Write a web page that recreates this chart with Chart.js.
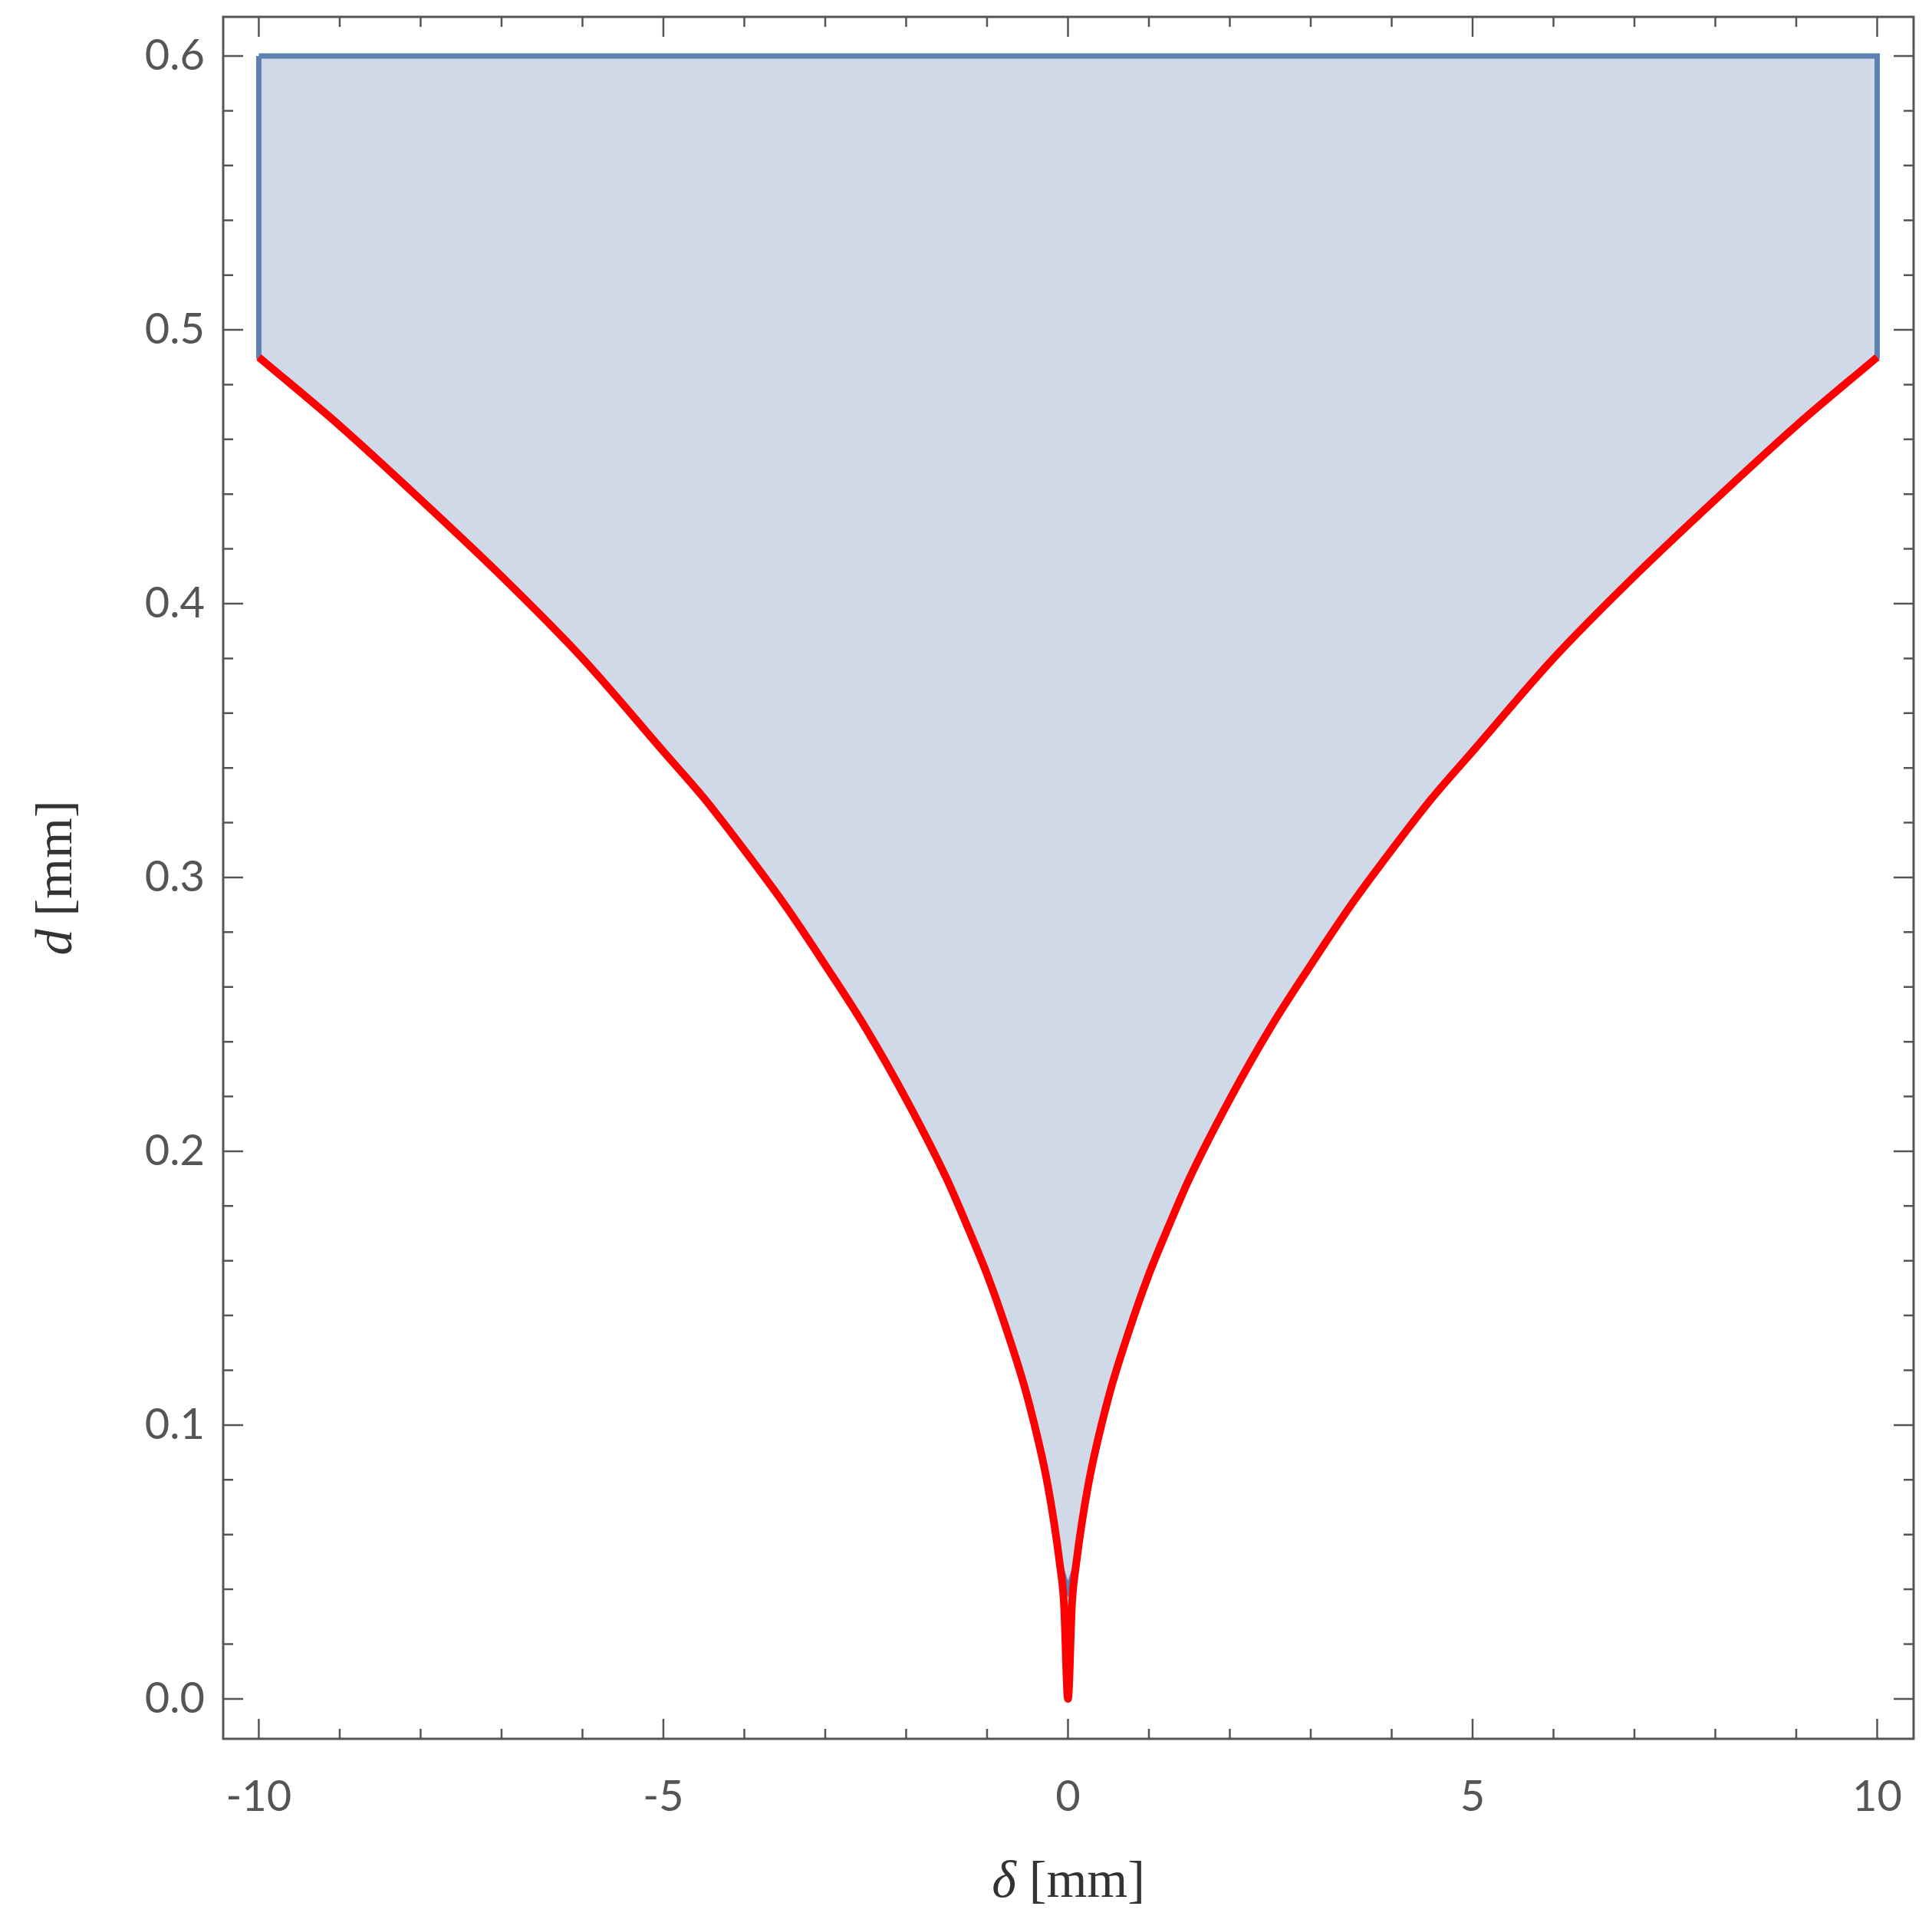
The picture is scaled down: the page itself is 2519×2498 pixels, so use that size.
<!DOCTYPE html>
<html>
<head>
<meta charset="utf-8">
<script src="https://cdn.jsdelivr.net/npm/chart.js@4.4.1/dist/chart.umd.min.js"></script>
<style>
  html, body { margin: 0; padding: 0; background: #fff; }
  #wrap { width: 2519px; height: 2498px; }
</style>
</head>
<body>
<div id="wrap"><canvas id="chart"></canvas></div>
<script>
// boundary curve d(δ), right half, mirrored for left half
const deltaRight = [0, 0.05, 0.1, 0.25, 0.5, 0.75, 1, 1.25, 1.5, 2, 2.5, 3, 3.5, 4, 4.5, 5, 6, 7, 8, 9, 10];
const dRight = [0, 0.035, 0.049, 0.078, 0.11, 0.134, 0.155, 0.173, 0.19, 0.219, 0.245, 0.268, 0.29, 0.31, 0.329, 0.346, 0.38, 0.41, 0.438, 0.465, 0.49];
const dTop = 0.6;
const xTicks = [-10, -5, 0, 5, 10];
const yTicks = [0.0, 0.1, 0.2, 0.3, 0.4, 0.5, 0.6];

// red curve: left branch then right branch
const curve = [];
for (let i = deltaRight.length - 1; i >= 0; i--) curve.push({ x: -deltaRight[i], y: dRight[i] });
for (let i = 1; i < deltaRight.length; i++) curve.push({ x: deltaRight[i], y: dRight[i] });

// filled region: top edge, down the right side, along the curve, up the left side
const region = [{ x: -10, y: dTop }, { x: 10, y: dTop }];
for (let i = curve.length - 1; i >= 0; i--) {
    if (curve[i].y >= 0.04 || curve[i].x === 0) region.push({ x: curve[i].x, y: Math.max(curve[i].y, 0.04) });
}
region.push({ x: -10, y: dTop });

const frameColor = '#555555';

const framePlugin = {
    id: 'frame',
    afterDraw(chart) {
        const { ctx, chartArea: a, scales: { x, y } } = chart;
        ctx.save();
        ctx.strokeStyle = frameColor;
        ctx.lineWidth = 3;
        ctx.strokeRect(a.left, a.top, a.right - a.left, a.bottom - a.top);
        ctx.lineWidth = 2.5;
        for (let v = -10; v <= 10; v++) {
            const px = x.getPixelForValue(v);
            const len = v % 5 === 0 ? 26 : 13;
            ctx.beginPath();
            ctx.moveTo(px, a.bottom); ctx.lineTo(px, a.bottom - len);
            ctx.moveTo(px, a.top); ctx.lineTo(px, a.top + len);
            ctx.stroke();
        }
        for (let k = 0; k <= 30; k++) {
            const py = y.getPixelForValue(k * 0.02);
            const len = k % 5 === 0 ? 26 : 13;
            ctx.beginPath();
            ctx.moveTo(a.left, py); ctx.lineTo(a.left + len, py);
            ctx.moveTo(a.right, py); ctx.lineTo(a.right - len, py);
            ctx.stroke();
        }
        // axis titles, italic symbol + upright unit
        ctx.fillStyle = '#333333';
        ctx.textBaseline = 'middle';
        ctx.textAlign = 'left';
        const title = (sym, cx, cy, rot) => {
            ctx.save();
            ctx.translate(cx, cy);
            ctx.rotate(rot);
            ctx.font = 'italic 68px "Liberation Serif"';
            const w1 = ctx.measureText(sym).width;
            ctx.font = '68px "Liberation Serif"';
            const w2 = ctx.measureText(' [mm]').width;
            const sx = -(w1 + w2) / 2;
            ctx.font = 'italic 68px "Liberation Serif"';
            ctx.fillText(sym, sx, 0);
            ctx.font = '68px "Liberation Serif"';
            ctx.fillText(' [mm]', sx + w1, 0);
            ctx.restore();
        };
        title('δ', (a.left + a.right) / 2, 2455, 0);
        title('d', 75, (a.top + a.bottom) / 2, -Math.PI / 2);
        ctx.restore();
    }
};

new Chart(document.getElementById('chart'), {
    type: 'scatter',
    data: {
        datasets: [
            {
                label: 'region',
                data: region,
                order: 2,
                showLine: true,
                fill: 'shape',
                backgroundColor: 'rgb(207, 217, 231)',
                borderColor: '#5e81b0',
                borderWidth: 7,
                pointRadius: 0,
                tension: 0
            },
            {
                label: 'boundary',
                data: curve,
                order: 1,
                showLine: true,
                fill: false,
                borderColor: '#ff0000',
                borderWidth: 10,
                pointRadius: 0,
                cubicInterpolationMode: 'monotone'
            }
        ]
    },
    options: {
        responsive: true,
        maintainAspectRatio: false,
        animation: false,
        devicePixelRatio: 1,
        layout: { padding: { top: 22, right: 24, left: 0, bottom: 0 } },
        plugins: { legend: { display: false }, tooltip: { enabled: false } },
        scales: {
            x: {
                type: 'linear',
                min: -10.44,
                max: 10.45,
                afterBuildTicks: s => { s.ticks = xTicks.map(v => ({ value: v })); },
                afterFit: s => { s.height = 231; s.paddingLeft = 0; s.paddingRight = 0; },
                grid: { display: false, drawTicks: false },
                border: { display: false },
                ticks: {
                    padding: 42,
                    color: '#555555',
                    font: { family: 'Lato', size: 56 },
                    callback: v => String(v),
                    maxRotation: 0
                }
            },
            y: {
                type: 'linear',
                min: -0.0146,
                max: 0.6143,
                afterBuildTicks: s => { s.ticks = yTicks.map(v => ({ value: v })); },
                afterFit: s => { s.width = 291; s.paddingTop = 0; s.paddingBottom = 0; },
                grid: { display: false, drawTicks: false },
                border: { display: false },
                ticks: {
                    padding: 24,
                    color: '#555555',
                    font: { family: 'Lato', size: 56 },
                    callback: v => v.toFixed(1)
                }
            }
        }
    },
    plugins: [framePlugin]
});
</script>
</body>
</html>
